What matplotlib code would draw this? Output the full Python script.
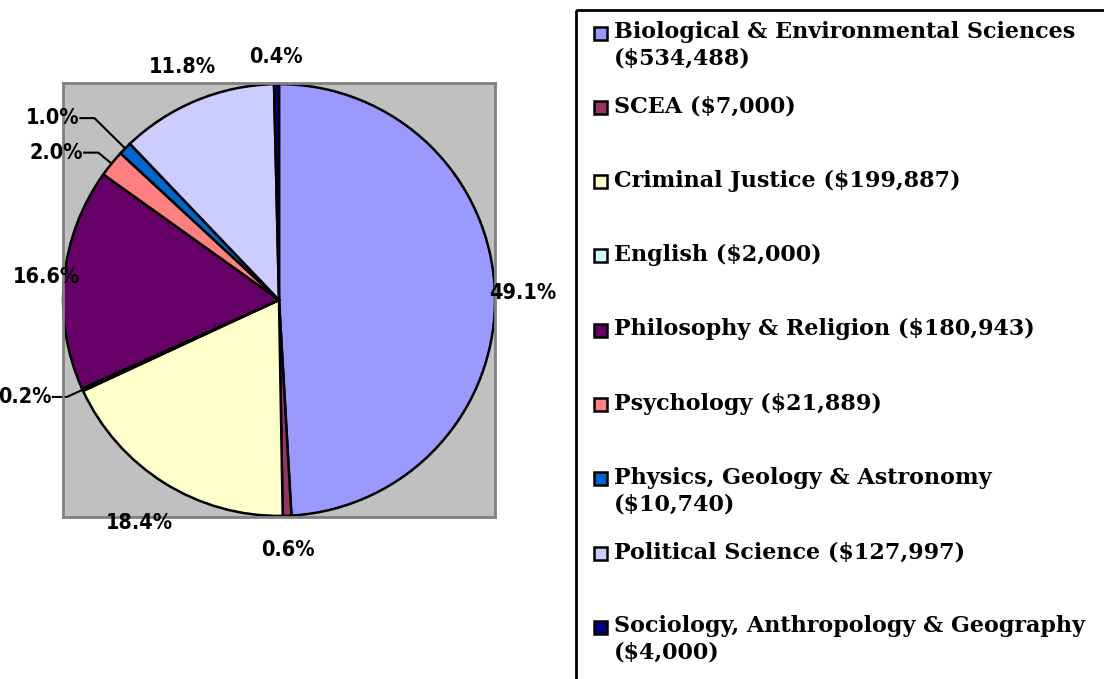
import textwrap
import numpy as np
import matplotlib
matplotlib.use("Agg")
import matplotlib.pyplot as plt
from matplotlib.patches import Rectangle

# departments and grant amounts
departments = ["Biological & Environmental Sciences", "SCEA", "Criminal Justice",
               "English", "Philosophy & Religion", "Psychology",
               "Physics, Geology & Astronomy", "Political Science",
               "Sociology, Anthropology & Geography"]
amounts = [534488, 7000, 199887, 2000, 180943, 21889, 10740, 127997, 4000]
colors = ["#9999FF", "#993366", "#FFFFCC", "#CCFFFF", "#660066",
          "#FF8080", "#0066CC", "#CCCCFF", "#000080"]

# label placement (radius of pct label, radius of leader elbow or None)
label_r = [1.13, 1.16, 1.22, 1.21, 1.08, 1.21, 1.29, 1.17, 1.125]
elbow_r = [None, None, None, 1.08, None, 1.08, 1.20, None, None]

W, H = 1104, 679
fig = plt.figure(figsize=(W / 100, H / 100), dpi=100)

# background axes in pixel units for the legend
bg = fig.add_axes([0, 0, 1, 1])
bg.set_xlim(0, W)
bg.set_ylim(H, 0)
bg.axis("off")

ax = fig.add_axes([63 / W, 1 - 517 / H, 432 / W, 434 / H])
wedges, _ = ax.pie(amounts, colors=colors, startangle=90, counterclock=False,
                   radius=1.0, frame=True,
                   wedgeprops=dict(edgecolor="black", linewidth=1.8))
ax.set_facecolor("#C0C0C0")
for s in ax.spines.values():
    s.set_visible(True)
    s.set_color("#808080")
    s.set_linewidth(2)
ax.set_xticks([])
ax.set_yticks([])
ax.set_xlim(-1.0, 1.0)
ax.set_ylim(-1.005, 1.005)
ax.set_aspect("auto")

lab_font = dict(family=["Liberation Sans Narrow", "DejaVu Sans"], fontweight="bold",
                fontsize=15.5, fontstretch="condensed")
total = sum(amounts)
for w, amt, r, er in zip(wedges, amounts, label_r, elbow_r):
    a = np.deg2rad((w.theta1 + w.theta2) / 2)
    pct = f"{100 * amt / total:.1f}%"
    if er is None:
        ax.text(r * np.cos(a), r * np.sin(a), pct, ha="center", va="center",
                clip_on=False, **lab_font)
    else:
        ex, ey = er * np.cos(a), er * np.sin(a)
        px, py = np.cos(a), np.sin(a)
        tx = ex - 0.065
        ax.plot([px, ex, tx], [py, ey, ey], color="black", lw=1.5, clip_on=False)
        ax.text(tx - 0.005, ey, pct, ha="right", va="center", clip_on=False, **lab_font)

# legend box
bg.add_patch(Rectangle((576, 10), 600, 700, fill=False, edgecolor="black", lw=2))
leg_font = dict(family="DejaVu Serif", fontweight="bold", fontsize=16)
for i, (name, amt, c) in enumerate(zip(departments, amounts, colors)):
    y = 33 + 74.3 * i
    bg.add_patch(Rectangle((594, y - 6.5), 13, 13, facecolor=c, edgecolor="black", lw=1.8))
    label = textwrap.fill(f"{name} (${amt:,})", 35)
    bg.text(614, y - 12, label, ha="left", va="top", linespacing=1.25, **leg_font)

fig.savefig("out.png", dpi=100)
